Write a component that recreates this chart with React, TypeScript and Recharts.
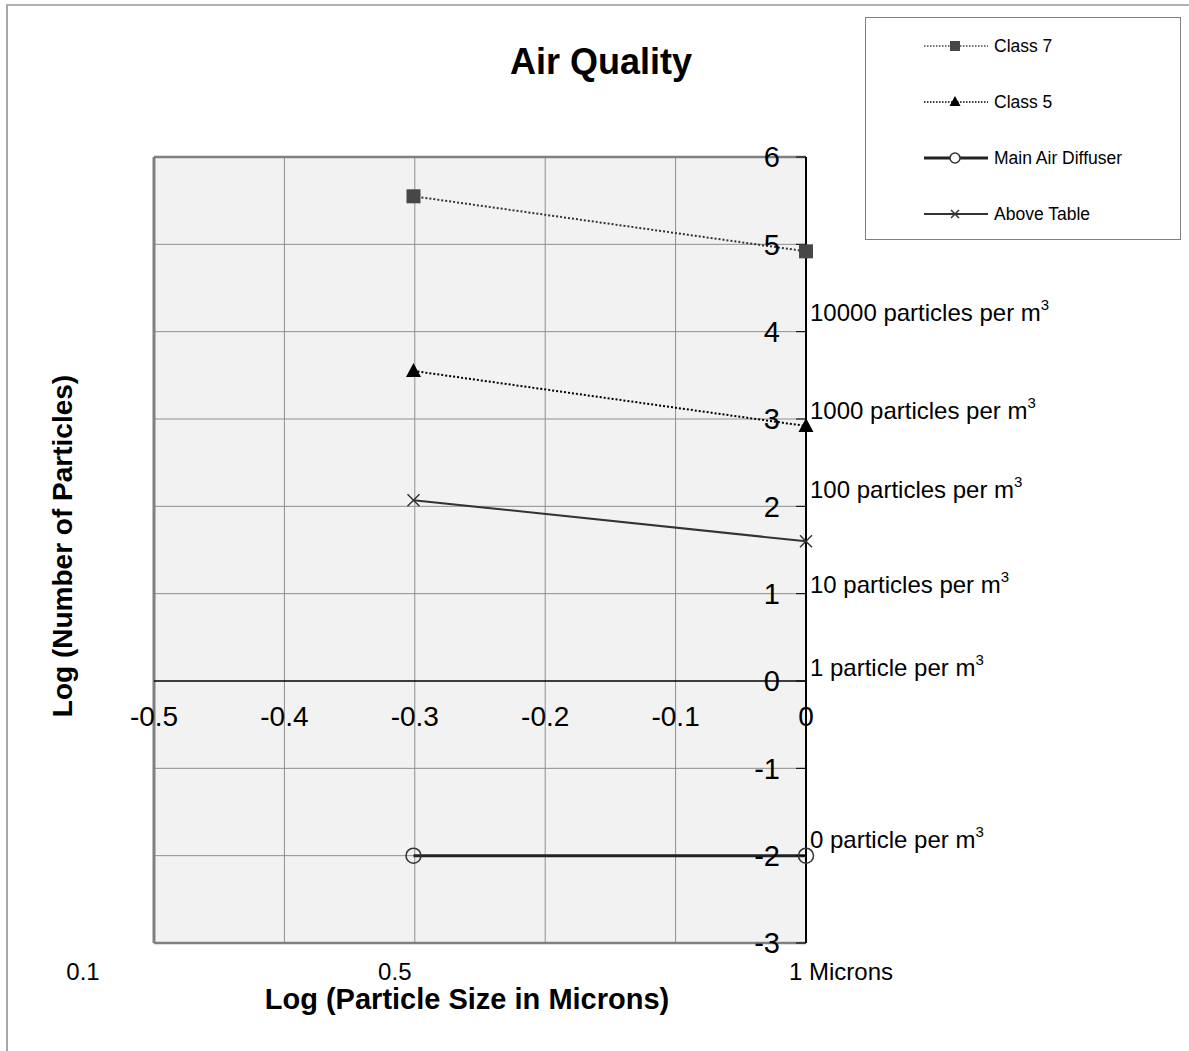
import React from 'react';
import {
  ComposedChart,
  Line,
  XAxis,
  YAxis,
  CartesianGrid,
  ReferenceLine,
  ReferenceDot,
  Legend,
} from 'recharts';

// log10 of particle size (0.5 µm, 1 µm)
const sizeLogs = [-0.301, 0];
// log10 of particle counts per series
const class7 = [5.55, 4.92];
const class5 = [3.55, 2.92];
const mainAirDiffuser = [-2, -2];
const aboveTable = [2.07, 1.6];

const seriesNames = ['Class 7', 'Class 5', 'Main Air Diffuser', 'Above Table'];

const xGridValues = [-0.4, -0.3, -0.2, -0.1];
const yGridValues = [-2, -1, 1, 2, 3, 4, 5];
const xZeroAxisTicks = [-0.5, -0.4, -0.3, -0.2, -0.1, 0];
const xZeroAxisLabels = ['-0.5', '-0.4', '-0.3', '-0.2', '-0.1', '0'];
const yTicks = [-3, -2, -1, 0, 1, 2, 3, 4, 5, 6];
const sizeTicks = [-0.5, -0.301, 0];
const sizeTickLabels = ['0.1', '0.5', '1 Microns'];
const concentrationLabels = [
  '10000 particles per m',
  '1000 particles per m',
  '100 particles per m',
  '10 particles per m',
  '1 particle per m',
  '0 particle per m',
];
const concentrationLabelY = [4.22, 3.1, 2.19, 1.1, 0.16, -1.82];

const FONT = '"Liberation Sans", Arial, Helvetica, sans-serif';

const toPoints = (ys: number[]) => sizeLogs.map((x, i) => ({ x, y: ys[i] }));

const SquareDot = (p: any) => (
  <rect key={p.key} x={p.cx - 7} y={p.cy - 7} width={14} height={14} fill="#474747" />
);
const TriangleDot = (p: any) => (
  <path key={p.key} d={`M${p.cx},${p.cy - 8} L${p.cx + 7.5},${p.cy + 6} L${p.cx - 7.5},${p.cy + 6} Z`} fill="#000" />
);
const CircleDot = (p: any) => (
  <circle key={p.key} cx={p.cx} cy={p.cy} r={7.5} fill="none" stroke="#333" strokeWidth={1.5} />
);
const CrossDot = (p: any) => (
  <path
    key={p.key}
    d={`M${p.cx - 6},${p.cy - 6} L${p.cx + 6},${p.cy + 6} M${p.cx + 6},${p.cy - 6} L${p.cx - 6},${p.cy + 6}`}
    stroke="#333"
    strokeWidth={1.5}
  />
);

const LegendBox = () => {
  const row = (icon: React.ReactNode, label: string) => (
    <div style={{ display: 'flex', alignItems: 'center', height: 56 }}>
      <svg width={64} height={20} style={{ marginLeft: 58, marginRight: 6 }}>
        {icon}
      </svg>
      <span style={{ fontSize: 17.5, fontFamily: FONT, color: '#000' }}>{label}</span>
    </div>
  );
  return (
    <div
      style={{
        width: 314,
        height: 221,
        border: '1px solid #808080',
        background: '#fff',
        boxSizing: 'content-box',
      }}
    >
      {row(
        <g>
          <line x1={0} y1={10} x2={64} y2={10} stroke="#444" strokeWidth={1.5} strokeDasharray="1.5 1.5" />
          <rect x={26} y={5} width={10} height={10} fill="#474747" />
        </g>,
        seriesNames[0]
      )}
      {row(
        <g>
          <line x1={0} y1={10} x2={64} y2={10} stroke="#000" strokeWidth={1.5} strokeDasharray="1.5 1.5" />
          <path d="M31,4 L36.5,14 L25.5,14 Z" fill="#000" />
        </g>,
        seriesNames[1]
      )}
      {row(
        <g>
          <line x1={0} y1={10} x2={64} y2={10} stroke="#222" strokeWidth={3} />
          <circle cx={31} cy={10} r={5} fill="#fff" stroke="#333" strokeWidth={1.5} />
        </g>,
        seriesNames[2]
      )}
      {row(
        <g>
          <line x1={0} y1={10} x2={64} y2={10} stroke="#333" strokeWidth={2} />
          <path d="M27,6 L35,14 M35,6 L27,14" stroke="#333" strokeWidth={1.5} />
        </g>,
        seriesNames[3]
      )}
    </div>
  );
};

const SizeTick = (p: any) => {
  const v = p.payload.value;
  const i = sizeTicks.indexOf(v);
  const label = sizeTickLabels[i] ?? '';
  let x = p.x;
  let anchor: 'start' | 'middle' | 'end' = 'middle';
  if (i === 0) {
    x = p.x - 71;
  } else if (i === 1) {
    x = p.x - 2;
    anchor = 'end';
  } else if (i === 2) {
    x = p.x - 17;
    anchor = 'start';
  }
  return (
    <text x={x} y={p.y + 20} dy="0.355em" textAnchor={anchor} fontSize={24} fontFamily={FONT} fill="#000">
      {label}
    </text>
  );
};

export default function App() {
  return (
    <div style={{ position: 'absolute', left: 0, top: 0, width: 1189, height: 1051, background: '#fff', fontFamily: FONT }}>
      <div
        style={{
          position: 'absolute',
          left: 6,
          top: 4,
          width: 1183,
          height: 1047,
          borderLeft: '2px solid #a6a6a6',
          borderTop: '2px solid #b3b3b3',
          boxSizing: 'border-box',
        }}
      />
      <div style={{ position: 'absolute', left: 0, top: 0 }}>
        <ComposedChart
          width={1189}
          height={1051}
          margin={{ top: 157, left: 154, right: 383, bottom: 48 }}
        >
          <CartesianGrid fill="#f2f2f2" stroke="none" vertical={false} horizontal={false} />
          <XAxis
            dataKey="x"
            type="number"
            domain={[-0.5, 0]}
            ticks={sizeTicks}
            height={60}
            axisLine={false}
            tickLine={false}
            tick={<SizeTick />}
            allowDecimals
            interval={0}
          />
          <YAxis
            type="number"
            domain={[-3, 6]}
            ticks={yTicks}
            orientation="right"
            width={0}
            interval={0}
            axisLine={false}
            tickLine={false}
            tick={false}
          />
          {xGridValues.map((v) => (
            <ReferenceLine key={`g${v}`} x={v} stroke="#8f8f8f" strokeWidth={1} />
          ))}
          {yGridValues.map((v) => (
            <ReferenceLine key={`h${v}`} y={v} stroke="#8f8f8f" strokeWidth={1} />
          ))}
          <ReferenceLine x={-0.5} stroke="#808080" strokeWidth={3} />
          <ReferenceLine y={6} stroke="#808080" strokeWidth={2.5} />
          <ReferenceLine y={-3} stroke="#808080" strokeWidth={2.5} />
          <ReferenceLine y={0} stroke="#000" strokeWidth={1.5} />
          <ReferenceLine x={0} stroke="#000" strokeWidth={2} />
          {yTicks.map((v) => (
            <ReferenceDot
              key={`yl${v}`}
              x={0}
              y={v}
              r={0}
              ifOverflow="visible"
              shape={(p: any) => (
                <g>
                  <line x1={p.cx - 10} y1={p.cy} x2={p.cx} y2={p.cy} stroke="#000" strokeWidth={1} />
                  <text x={p.cx - 26} y={p.cy} dy="0.355em" textAnchor="end" fontSize={29} fontFamily={FONT} fill="#000">
                    {String(v)}
                  </text>
                </g>
              )}
            />
          ))}
          {xZeroAxisTicks.map((v, i) => (
            <ReferenceDot
              key={`xl${v}`}
              x={v}
              y={0}
              r={0}
              ifOverflow="visible"
              shape={(p: any) => (
                <text x={p.cx} y={p.cy + 35} dy="0.355em" textAnchor="middle" fontSize={28} fontFamily={FONT} fill="#000">
                  {xZeroAxisLabels[i]}
                </text>
              )}
            />
          ))}
          {concentrationLabels.map((t, i) => (
            <ReferenceDot
              key={`cl${i}`}
              x={0}
              y={concentrationLabelY[i]}
              r={0}
              ifOverflow="visible"
              shape={(p: any) => (
                <text x={p.cx + 4} y={p.cy} dy="0.355em" textAnchor="start" fontSize={24} fontFamily={FONT} fill="#000">
                  {t}
                  <tspan fontSize={15} dy={-11}>3</tspan>
                </text>
              )}
            />
          ))}
          <Line
            data={toPoints(mainAirDiffuser)}
            dataKey="y"
            name={seriesNames[2]}
            type="linear"
            stroke="#222"
            strokeWidth={3}
            dot={CircleDot}
            activeDot={false}
            isAnimationActive={false}
          />
          <Line
            data={toPoints(aboveTable)}
            dataKey="y"
            name={seriesNames[3]}
            type="linear"
            stroke="#333"
            strokeWidth={2}
            dot={CrossDot}
            activeDot={false}
            isAnimationActive={false}
          />
          <Line
            data={toPoints(class5)}
            dataKey="y"
            name={seriesNames[1]}
            type="linear"
            stroke="#000"
            strokeWidth={2}
            strokeDasharray="2 2"
            dot={TriangleDot}
            activeDot={false}
            isAnimationActive={false}
          />
          <Line
            data={toPoints(class7)}
            dataKey="y"
            name={seriesNames[0]}
            type="linear"
            stroke="#333"
            strokeWidth={2}
            strokeDasharray="2 2"
            dot={SquareDot}
            activeDot={false}
            isAnimationActive={false}
          />
          <Legend
            layout="horizontal"
            verticalAlign="middle"
            align="center"
            content={<LegendBox />}
            wrapperStyle={{ position: 'absolute', left: 865, top: 17, width: 316, height: 223, bottom: 'auto', right: 'auto' }}
          />
        </ComposedChart>
      </div>
      <svg
        width={1189}
        height={1051}
        style={{ position: 'absolute', left: 0, top: 0, pointerEvents: 'none' }}
      >
        <text x={601} y={61} dy="0.355em" textAnchor="middle" fontSize={36} fontWeight="bold" fontFamily={FONT} fill="#000">
          Air Quality
        </text>
        <text x={467} y={999} dy="0.355em" textAnchor="middle" fontSize={29} fontWeight="bold" fontFamily={FONT} fill="#000">
          Log (Particle Size in Microns)
        </text>
        <text
          x={62}
          y={546}
          dy="0.355em"
          textAnchor="middle"
          fontSize={28}
          fontWeight="bold"
          fontFamily={FONT}
          fill="#000"
          transform="rotate(-90 62 546)"
        >
          Log (Number of Particles)
        </text>
      </svg>
    </div>
  );
}
